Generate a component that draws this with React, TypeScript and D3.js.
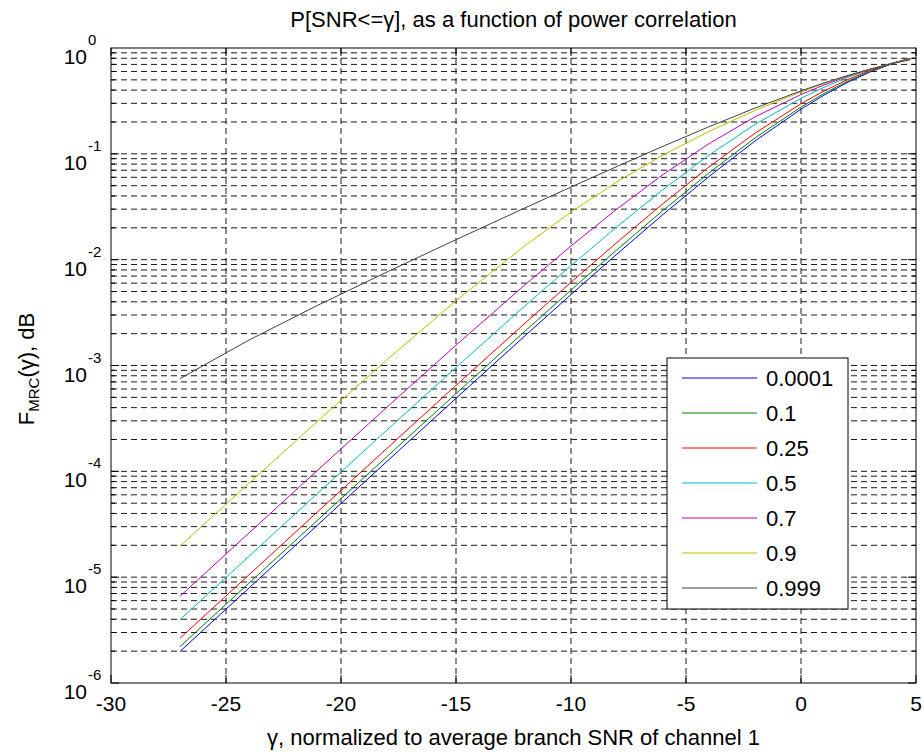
import React from "react";
import * as d3 from "d3";

// x grid (dB), gamma normalized to average branch SNR of channel 1
const gammaDb = [-27, -24, -21, -18, -15, -12, -10, -8, -6, -4, -2, 0, 1, 2, 3, 4, 4.75];

// P[SNR<=gamma] for each power correlation value
const rho0001 = [1.988e-6, 7.904e-6, 3.138e-5, 1.2428e-4, 4.896e-4, 1.9088e-3, 4.679e-3, 0.01131, 0.02672, 0.06103, 0.13217, 0.26424, 0.35856, 0.4702, 0.5927, 0.7151, 0.7987];
const rho01 = [2.208e-6, 8.779e-6, 3.4847e-5, 1.3792e-4, 5.427e-4, 2.1111e-3, 5.161e-3, 0.012423, 0.0292, 0.066, 0.1411, 0.2769, 0.3718, 0.4822, 0.6014, 0.7188, 0.7983];
const rho025 = [2.649e-6, 1.0529e-5, 4.1767e-5, 1.6512e-4, 6.4825e-4, 2.5102e-3, 6.105e-3, 0.01458, 0.03383, 0.07517, 0.1566, 0.2975, 0.3923, 0.4996, 0.6126, 0.7222, 0.7963];
const rho05 = [3.971e-6, 1.5765e-5, 6.2432e-5, 2.4596e-4, 9.5898e-4, 3.6639e-3, 8.77e-3, 0.02047, 0.04592, 0.0972, 0.1899, 0.3349, 0.4254, 0.5239, 0.6251, 0.7229, 0.79];
const rho07 = [6.606e-6, 2.6183e-5, 1.03326e-4, 4.0426e-4, 1.5551e-3, 5.7889e-3, 0.013471, 0.03012, 0.0637, 0.1248, 0.2236, 0.3634, 0.447, 0.5369, 0.6296, 0.7204, 0.784];
const rho09 = [1.964e-5, 7.7187e-5, 2.994e-4, 1.1329e-3, 4.09e-3, 0.013585, 0.02818, 0.05441, 0.0974, 0.1627, 0.257, 0.3852, 0.4617, 0.5446, 0.6311, 0.717, 0.7781];
const rho0999 = [7.521e-4, 1.7394e-3, 3.7155e-3, 7.647e-3, 0.015445, 0.030821, 0.048545, 0.075974, 0.11784, 0.18033, 0.27044, 0.3934, 0.46707, 0.54724, 0.63126, 0.71521, 0.77527];

const legendLabels = ["0.0001", "0.1", "0.25", "0.5", "0.7", "0.9", "0.999"];
const seriesColors = ["#0000ff", "#008000", "#ff0000", "#00bfbf", "#bf00bf", "#bfbf00", "#404040"];
const seriesValues = [rho0001, rho01, rho025, rho05, rho07, rho09, rho0999];

const xTicks = [-30, -25, -20, -15, -10, -5, 0, 5];
const yExponents = [0, -1, -2, -3, -4, -5, -6];

const titleText = "P[SNR<=\u03b3], as a function of power correlation";
const xLabelText = "\u03b3, normalized to average branch SNR of channel 1";

const W = 924;
const H = 753;
const L = 111;
const R = 916;
const T = 48;
const B = 683;
const FONT = "'Liberation Sans', Arial, Helvetica, sans-serif";

export default function App() {
  const x = d3.scaleLinear().domain([-30, 5]).range([L, R]);
  const y = d3.scaleLog().domain([1e-6, 1]).range([B, T]);
  const line = d3
    .line<[number, number]>()
    .x((d) => x(d[0]))
    .y((d) => y(d[1]));

  const gridY: { v: number; major: boolean }[] = [];
  for (let e = -6; e < 0; e++) {
    for (let m = 1; m <= 9; m++) {
      gridY.push({ v: m * Math.pow(10, e), major: m === 1 });
    }
  }

  const legX = 667;
  const legY = 358;
  const legW = 181;
  const legH = 251;
  const rowH = 35;

  return (
    <svg
      width={W}
      height={H}
      style={{ position: "absolute", left: 0, top: 0, background: "#fff" }}
      fontFamily={FONT}
    >
      <rect x={0} y={0} width={W} height={H} fill="#fff" />
      <rect x={L} y={T} width={R - L} height={B - T} fill="#fff" />
      {/* horizontal grid */}
      {gridY
        .filter((g) => g.v > 1e-6)
        .map((g, i) => (
          <line
            key={"gy" + i}
            x1={L}
            x2={R}
            y1={y(g.v)}
            y2={y(g.v)}
            stroke="#1a1a1a"
            strokeWidth={1}
            strokeDasharray="6,4"
          />
        ))}
      {/* vertical grid */}
      {xTicks
        .filter((t) => t > -30 && t < 5)
        .map((t) => (
          <line
            key={"gx" + t}
            x1={x(t)}
            x2={x(t)}
            y1={T}
            y2={B}
            stroke="#1a1a1a"
            strokeWidth={1}
            strokeDasharray="6,4"
          />
        ))}
      {/* ticks */}
      {gridY.map((g, i) => {
        const len = g.major ? 8 : 4;
        const yy = y(g.v);
        return (
          <g key={"ty" + i}>
            <line x1={L} x2={L + len} y1={yy} y2={yy} stroke="#000" strokeWidth={1} />
            <line x1={R} x2={R - len} y1={yy} y2={yy} stroke="#000" strokeWidth={1} />
          </g>
        );
      })}
      {xTicks.map((t) => (
        <g key={"tx" + t}>
          <line x1={x(t)} x2={x(t)} y1={B} y2={B - 8} stroke="#000" strokeWidth={1} />
          <line x1={x(t)} x2={x(t)} y1={T} y2={T + 8} stroke="#000" strokeWidth={1} />
        </g>
      ))}
      {/* data */}
      {seriesValues.map((vals, si) => (
        <path
          key={"s" + si}
          d={line(gammaDb.map((g, i) => [g, vals[i]] as [number, number])) || ""}
          fill="none"
          stroke={seriesColors[si]}
          strokeWidth={1}
        />
      ))}
      {/* box */}
      <rect x={L} y={T} width={R - L} height={B - T} fill="none" stroke="#000" strokeWidth={1} />
      {/* x tick labels */}
      {xTicks.map((t) => (
        <text key={"xl" + t} x={x(t)} y={711} textAnchor="middle" fontSize={21} fill="#000">
          {t}
        </text>
      ))}
      {/* y tick labels */}
      {yExponents.map((e) => {
        const yy = y(Math.pow(10, e));
        return (
          <g key={"yl" + e}>
            <text x={87} y={yy + 16} textAnchor="end" fontSize={21} fill="#000">
              10
            </text>
            <text x={88} y={yy - 3} textAnchor="start" fontSize={15} fill="#000">
              {e}
            </text>
          </g>
        );
      })}
      {/* title */}
      <text x={(L + R) / 2} y={27} textAnchor="middle" fontSize={22} fill="#000">
        {titleText}
      </text>
      {/* x label */}
      <text x={(L + R) / 2} y={745} textAnchor="middle" fontSize={22} fill="#000">
        {xLabelText}
      </text>
      {/* y label */}
      <text
        transform={`translate(34, 369) rotate(-90)`}
        textAnchor="middle"
        fontSize={22}
        fill="#000"
      >
        <tspan>F</tspan>
        <tspan fontSize={15} dy={5}>MRC</tspan>
        <tspan dy={-5}>({"\u03b3"}), dB</tspan>
      </text>
      {/* legend */}
      <rect x={legX} y={legY} width={legW} height={legH} fill="#fff" stroke="#000" strokeWidth={1} />
      {legendLabels.map((lab, i) => {
        const yy = legY + 20 + i * rowH;
        return (
          <g key={"lg" + i}>
            <line x1={682} x2={757} y1={yy} y2={yy} stroke={seriesColors[i]} strokeWidth={1} />
            <text x={766} y={yy + 8} fontSize={22} fill="#000">
              {lab}
            </text>
          </g>
        );
      })}
    </svg>
  );
}
